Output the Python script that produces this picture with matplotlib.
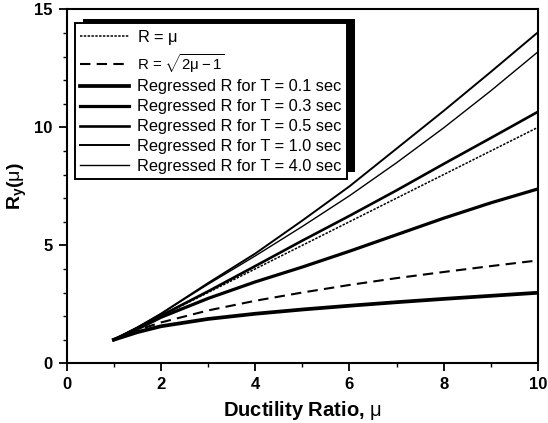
import matplotlib
matplotlib.use("Agg")
import matplotlib.pyplot as plt
from matplotlib.patches import Rectangle
from matplotlib.ticker import MultipleLocator

# Ductility ratio samples
mu = [1.0, 1.5, 2.0, 3.0, 4.0, 5.0, 6.0, 7.0, 8.0, 9.0, 10.0]

# Reference relations
r_equal = [1.0, 1.5, 2.0, 3.0, 4.0, 5.0, 6.0, 7.0, 8.0, 9.0, 10.0]
r_sqrt = [1.0, 1.41, 1.73, 2.24, 2.65, 3.0, 3.32, 3.61, 3.87, 4.12, 4.36]

# Regressed strength reduction factors per period
r_t01 = [1.0, 1.32, 1.57, 1.88, 2.1, 2.28, 2.44, 2.59, 2.73, 2.86, 2.99]
r_t03 = [1.0, 1.45, 1.95, 2.75, 3.45, 4.08, 4.75, 5.45, 6.15, 6.8, 7.39]
r_t05 = [1.0, 1.5, 2.02, 3.05, 4.12, 5.2, 6.25, 7.33, 8.45, 9.55, 10.66]
r_t10 = [1.0, 1.52, 2.1, 3.4, 4.65, 6.05, 7.5, 9.1, 10.7, 12.35, 14.03]
r_t40 = [1.0, 1.52, 2.1, 3.35, 4.55, 5.8, 7.1, 8.5, 9.98, 11.55, 13.2]

labels = [r"R = $\mu$", r"R = $\sqrt{2\mu - 1}$",
          "Regressed R for T = 0.1 sec", "Regressed R for T = 0.3 sec",
          "Regressed R for T = 0.5 sec", "Regressed R for T = 1.0 sec",
          "Regressed R for T = 4.0 sec"]

plt.rcParams["font.family"] = ["Liberation Sans", "DejaVu Sans"]
plt.rcParams["mathtext.fontset"] = "custom"
plt.rcParams["mathtext.rm"] = "Liberation Sans"
plt.rcParams["mathtext.it"] = "Liberation Sans"
plt.rcParams["mathtext.bf"] = "Liberation Sans:bold"

fig = plt.figure(figsize=(5.48, 4.23), dpi=100)
ax = fig.add_axes([0.1217, 0.1411, 0.8601, 0.8369])

ax.plot(mu, r_equal, color="black", lw=1.1, ls=(0, (1.6, 0.9)), label=labels[0])
ax.plot(mu, r_sqrt, color="black", lw=1.5, ls=(0, (5, 3)), label=labels[1])
ax.plot(mu, r_t01, color="black", lw=2.7, label=labels[2])
ax.plot(mu, r_t03, color="black", lw=2.3, label=labels[3])
ax.plot(mu, r_t05, color="black", lw=1.9, label=labels[4])
ax.plot(mu, r_t10, color="black", lw=1.4, label=labels[5])
ax.plot(mu, r_t40, color="black", lw=1.0, label=labels[6])

ax.set_xlim(0, 10)
ax.set_ylim(0, 15)
ax.xaxis.set_major_locator(MultipleLocator(2))
ax.xaxis.set_minor_locator(MultipleLocator(1))
ax.yaxis.set_major_locator(MultipleLocator(5))
ax.yaxis.set_minor_locator(MultipleLocator(1))
ax.tick_params(which="major", direction="out", length=6, width=1.3, labelsize=12, pad=4)
ax.tick_params(which="minor", direction="out", length=3, width=1.0)
for lab in ax.get_xticklabels() + ax.get_yticklabels():
    lab.set_fontweight("bold")
for sp in ax.spines.values():
    sp.set_linewidth(1.5)

ax.set_xlabel(r"Ductility Ratio, $\mu$", fontsize=14.5, fontweight="bold", labelpad=5)
ax.set_ylabel(r"$\mathbf{R_y}$($\mu$)", fontsize=14, fontweight="bold", labelpad=4)

leg = ax.legend(loc="upper left", bbox_to_anchor=(0.018, 0.962), fontsize=11.8,
                frameon=True, fancybox=False, edgecolor="black", framealpha=1,
                handlelength=3.0, handletextpad=0.5, labelspacing=0.3,
                borderpad=0.3, borderaxespad=0.0)
leg.get_frame().set_linewidth(1.4)
leg.get_texts()[1].set_fontsize(10.8)
leg.set_zorder(6)

# Solid black drop shadow behind the legend box, offset up and to the right
fig.canvas.draw()
bb = leg.get_window_extent()
inv = ax.transAxes.inverted()
(x0, y0) = inv.transform((bb.x0 + 8, bb.y0 + 7))
(x1, y1) = inv.transform((bb.x1 + 8, bb.y1 + 4))
ax.add_patch(Rectangle((x0, y0), x1 - x0, y1 - y0, transform=ax.transAxes,
                       facecolor="black", edgecolor="none", zorder=5.5,
                       clip_on=False))

fig.savefig("out.png", dpi=100)
